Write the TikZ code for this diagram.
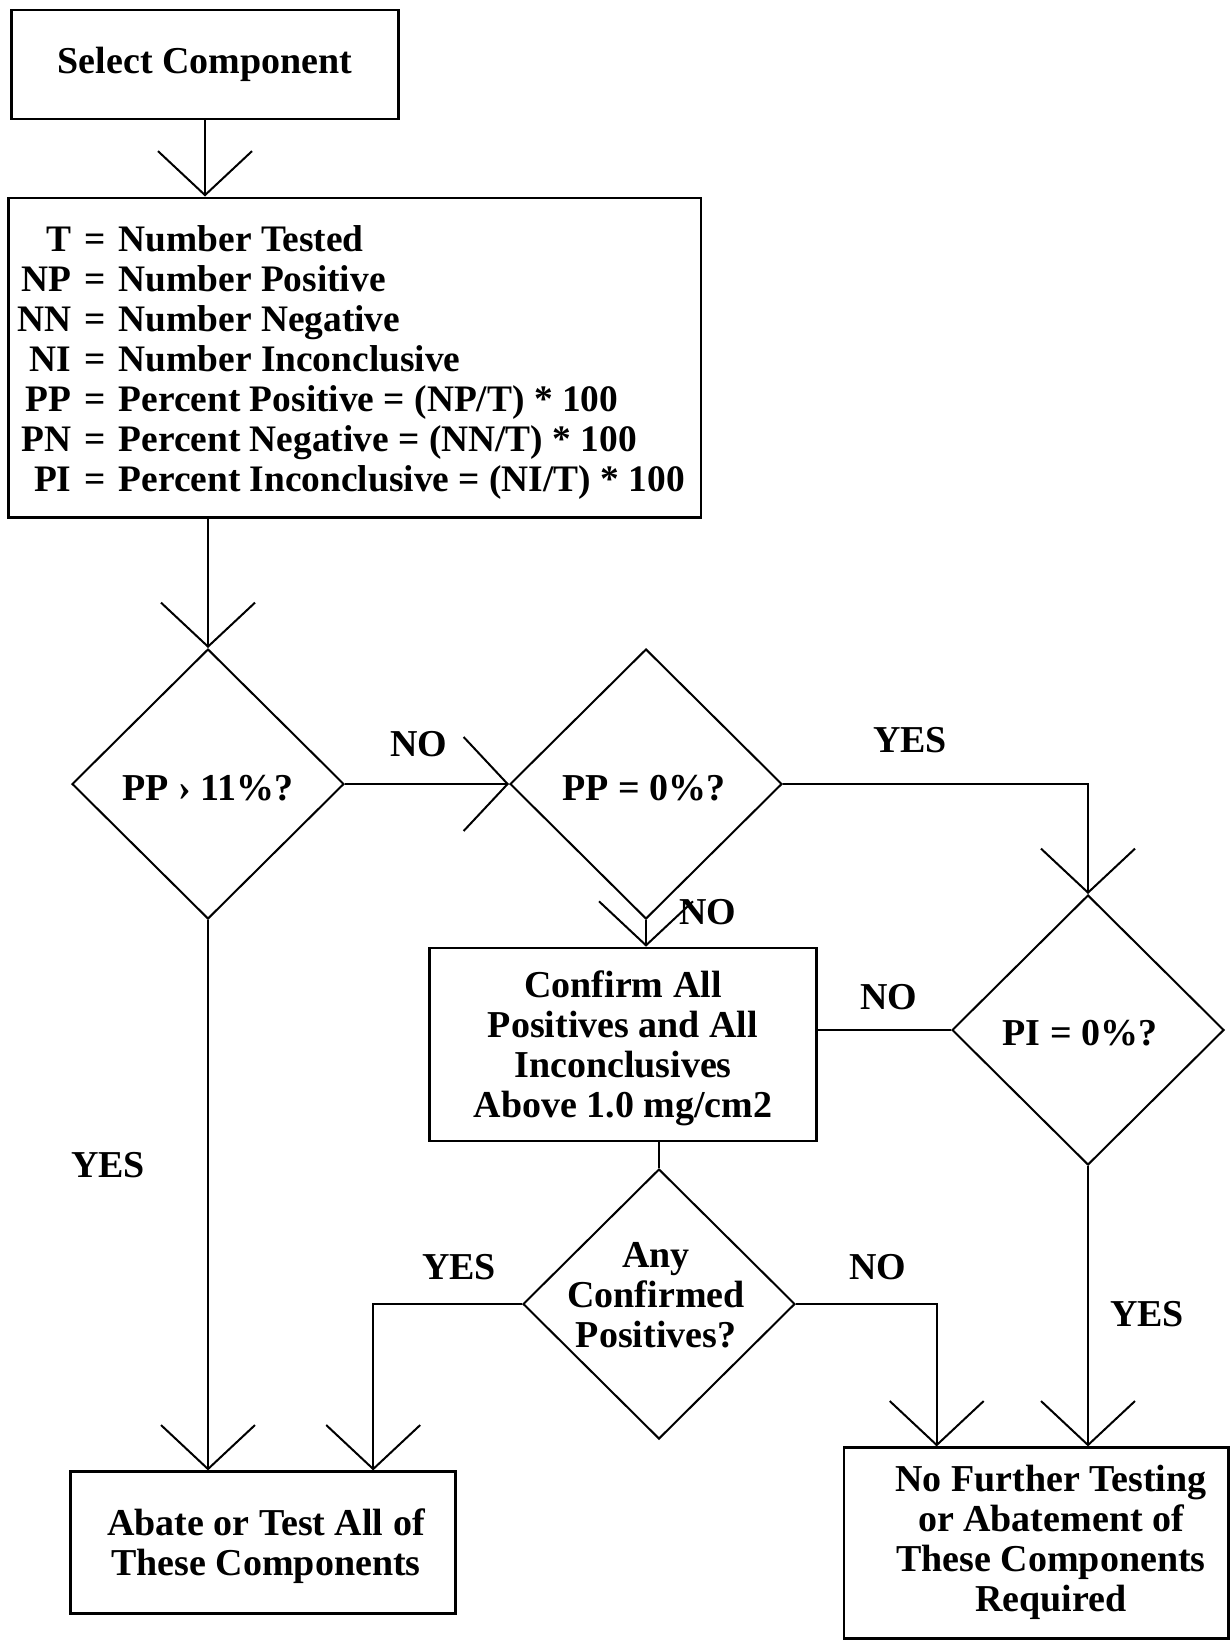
\documentclass[tikz,border=0pt]{standalone}
\usepackage{fontspec}
\setmainfont{Liberation Serif}
\usetikzlibrary{shapes.geometric,arrows.meta,calc}
\begin{document}
\begin{tikzpicture}[x=0.5pt,y=-0.5pt,
  font=\fontsize{19}{20}\selectfont\bfseries,
  box/.style={draw, line width=1.3pt, inner sep=0pt, align=center},
  dia/.style={diamond, draw, line width=1pt, minimum width=136pt, minimum height=135pt, inner sep=0pt},
  conn/.style={line width=1pt},
  arr/.style={conn, -{Straight Barb[length=22pt,width=47pt]}},
  lbl/.style={inner sep=0pt, align=center}]
\useasboundingbox (0,0) rectangle (1231,1643);

% boxes
\node[box, minimum width=193.5pt, minimum height=54.5pt] (sel) at (205,64.5) {Select Component};
\node[box, minimum width=346.3pt, minimum height=159.7pt] (defs) at (354.7,357.5) {};
\node[lbl, anchor=west] (deftxt) at (17,363) {%
  \fontsize{18.7}{20}\selectfont
  \begin{tabular}{@{}r@{\hspace{6.5pt}=\hspace{6.5pt}}l@{}}
  T & Number Tested\\
  NP & Number Positive\\
  NN & Number Negative\\
  NI & Number Inconclusive\\
  PP & Percent Positive = (NP/T) * 100\\
  PN & Percent Negative = (NN/T) * 100\\
  PI & Percent Inconclusive = (NI/T) * 100
  \end{tabular}};
\node[box, minimum width=193.5pt, minimum height=96.5pt] (conf) at (623,1044.5) {};
\node[lbl] (conftxt) at (623,1048) {Confirm All\\Positives and All\\Inconclusives\\Above 1.0 mg/cm2};
\node[box, minimum width=192.3pt, minimum height=70.8pt] (ab) at (263,1542.5) {};
\node[lbl] (abtxt) at (266,1546) {Abate or Test All of\\These Components};
\node[box, minimum width=192.3pt, minimum height=95.3pt] (nf) at (1036.3,1543) {};
\node[lbl] (nftxt) at (1051,1542) {No Further Testing\\or Abatement of\\These Components\\Required};

% diamonds
\node[dia] (d1) at (208,784) {};
\node[lbl] (d1t) at (208,788) {PP › 11\%?};
\node[dia] (d2) at (646,784) {};
\node[lbl] (d2t) at (644,788) {PP = 0\%?};
\node[dia] (d3) at (1088,1030) {};
\node[lbl] (d3t) at (1080,1033) {PI = 0\%?};
\node[dia] (d4) at (659,1304) {};
\node[lbl] (d4t) at (656,1295) {Any\\Confirmed\\Positives?};

% connectors
\coordinate (abin) at ($(ab.north west)+(303.8,0)$);
\coordinate (nfin) at ($(nf.north west)+(94,0)$);
\draw[arr] (sel.south) -- (sel.south |- defs.north);
\draw[arr] (d1.north |- defs.south) -- (d1.north);
\draw[arr] (d1.east) -- (d2.west);
\draw[arr] (d2.east) -| (d3.north);
\draw[arr] (d2.south) -- (d2.south |- conf.north);
\draw[conn] (conf.east |- d3.west) -- (d3.west);
\draw[conn] (d4.north |- conf.south) -- (d4.north);
\draw[arr] (d1.south) -- (d1.south |- ab.north);
\draw[arr] (d4.west) -| (abin);
\draw[arr] (d4.east) -| (nfin);
\draw[arr] (d3.south) -- (d3.south |- nf.north);

% labels
\node[lbl] (l1) at (419,744) {NO};
\node[lbl] (l2) at (910,740) {YES};
\node[lbl] (l3) at (708,912) {NO};
\node[lbl] (l4) at (889,997) {NO};
\node[lbl] (l5) at (108,1165) {YES};
\node[lbl] (l6) at (459,1267) {YES};
\node[lbl] (l7) at (878,1267) {NO};
\node[lbl] (l8) at (1147,1314) {YES};
\end{tikzpicture}
\end{document}
